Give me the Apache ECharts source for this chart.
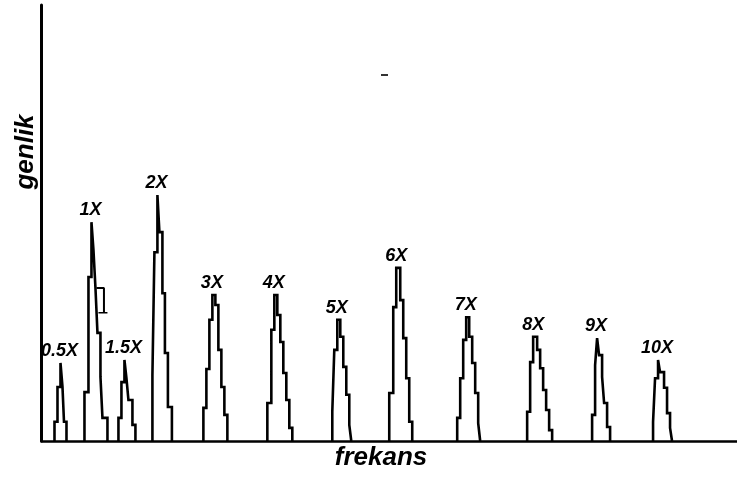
<!DOCTYPE html>
<html>
<head>
<meta charset="utf-8">
<style>
  html, body { margin: 0; padding: 0; background: #fff; }
  #chart { width: 737px; height: 477px; }
</style>
<script src="https://cdn.jsdelivr.net/npm/echarts@6/dist/echarts.min.js"></script>
</head>
<body>
<div id="chart"></div>
<script>
// Harmonic labels of the spectrum
const harmonics = ['0.5X', '1X', '1.5X', '2X', '3X', '4X', '5X', '6X', '7X', '8X', '9X', '10X'];

// Bin edges (frekans) of each harmonic's histogram peak
const binEdges = [
  [13, 16, 19, 21, 22.5, 25],
  [43, 47, 50, 52, 54, 56, 59, 61, 66],
  [77, 80, 83, 85, 87, 91, 94],
  [111, 113, 116, 118, 121, 123.5, 126.5, 130.5],
  [162, 165, 168, 171, 174, 177, 180, 183, 186],
  [226, 230, 233, 236, 239, 242, 245, 248, 251],
  [291, 293, 296, 299, 302, 305, 308, 310],
  [348, 352, 355, 359, 362, 365, 368, 371],
  [416, 419, 422, 425, 428, 431, 434, 437, 439],
  [486, 489, 492, 496, 499, 502, 505, 508, 511],
  [551, 554, 556, 558, 561, 563, 566, 569],
  [612, 614, 617, 619, 623, 626, 629, 631]
];

// Bin amplitudes (genlik) of each harmonic's peak
const binAmps = [
  [4.4, 12.4, 17.9, 12.4, 4.4],
  [11.2, 37.6, 50.2, 43.8, 35.1, 24.8, 14.7, 5.3],
  [5.3, 13.5, 18.6, 14.4, 9.4, 3.7],
  [15.1, 43.3, 56.4, 47.9, 33.9, 20.2, 7.8],
  [7.6, 16.5, 27.8, 33.5, 31.2, 20.9, 12.4, 6.0],
  [8.7, 25.5, 33.5, 28.9, 22.7, 15.6, 9.4, 3.0],
  [6.7, 20.9, 27.8, 23.9, 17.0, 10.6, 3.7],
  [11.0, 30.7, 39.7, 32.3, 23.6, 14.4, 4.4],
  [5.3, 14.4, 23.2, 28.4, 23.9, 17.9, 11.0, 4.1],
  [6.7, 18.1, 23.9, 20.9, 16.7, 11.7, 7.1, 2.5],
  [6.0, 17.4, 23.6, 19.7, 14.7, 8.7, 3.2],
  [4.4, 14.4, 18.6, 15.8, 12.2, 6.4, 3.0]
];

// Small side step on the 1X peak shoulder
const shoulderTop = [[55, 35.1], [62.5, 35.1], [62.5, 29.4]];
const shoulderBase = [[57, 29.4], [66, 29.4]];

const FONT = '"Liberation Sans", Arial, Helvetica, sans-serif';

// Turn bins into a closed step outline standing on the baseline
function stepOutline(edges, amps) {
  const pts = [[edges[0], 0]];
  amps.forEach((a, i) => {
    pts.push([edges[i], a]);
    pts.push([edges[i + 1], a]);
  });
  pts.push([edges[edges.length - 1], 0]);
  return pts;
}

// Top of each peak: centre of its tallest bin
const peakTops = binAmps.map((amps, k) => {
  let m = 0;
  amps.forEach((a, i) => { if (a > amps[m]) m = i; });
  const e = binEdges[k];
  return { value: [(e[m] + e[m + 1]) / 2, amps[m]], name: harmonics[k] };
});

const lineStyle = { color: '#000', width: 2.6, join: 'miter' };

const series = binEdges.map((edges, k) => ({
  type: 'line',
  name: harmonics[k],
  data: stepOutline(edges, binAmps[k]),
  showSymbol: false,
  symbol: 'none',
  lineStyle: lineStyle,
  silent: true,
  animation: false
}));

series.push({
  type: 'line', data: shoulderTop, symbol: 'none', lineStyle: { color: '#000', width: 2 }, animation: false, silent: true
});
series.push({
  type: 'line', data: shoulderBase, symbol: 'none', lineStyle: { color: '#000', width: 1.5 }, animation: false, silent: true
});

series.push({
  type: 'scatter',
  data: peakTops,
  symbolSize: 0,
  animation: false,
  silent: true,
  itemStyle: { opacity: 1, color: '#000' },
  label: {
    show: true,
    position: 'top',
    distance: 3,
    offset: [-2, 0],
    formatter: p => p.name,
    color: '#000',
    opacity: 1,
    fontFamily: FONT,
    fontStyle: 'italic',
    fontWeight: 'bold',
    fontSize: 18
  }
});

const titleFont = {
  fill: '#000', fontFamily: FONT, fontStyle: 'italic', fontWeight: 'bold', fontSize: 26,
  align: 'center', verticalAlign: 'middle'
};

const chart = echarts.init(document.getElementById('chart'), null, { renderer: 'canvas' });
chart.setOption({
  backgroundColor: '#fff',
  animation: false,
  grid: { left: 41.5, right: 0, top: 5, bottom: 36, containLabel: false, outerBoundsMode: 'none' },
  xAxis: {
    type: 'value',
    min: 0,
    max: 696,
    axisLine: { show: true, onZero: false, lineStyle: { color: '#000', width: 2.5 } },
    axisTick: { show: false },
    axisLabel: { show: false },
    splitLine: { show: false }
  },
  yAxis: {
    type: 'value',
    min: 0,
    max: 100,
    axisLine: { show: true, onZero: false, lineStyle: { color: '#000', width: 3 } },
    axisTick: { show: false },
    axisLabel: { show: false },
    splitLine: { show: false }
  },
  graphic: [
    // axis titles
    { type: 'text', x: 381, y: 458, silent: true, style: Object.assign({ text: 'frekans' }, titleFont) },
    { type: 'text', x: 26, y: 152, rotation: Math.PI / 2, silent: true, style: Object.assign({ text: 'genlik' }, titleFont) },
    // stray tick mark above the spectrum
    { type: 'rect', left: 381, top: 74, shape: { width: 7, height: 2 }, style: { fill: '#333' }, silent: true }
  ],
  series: series
});
</script>
</body>
</html>
